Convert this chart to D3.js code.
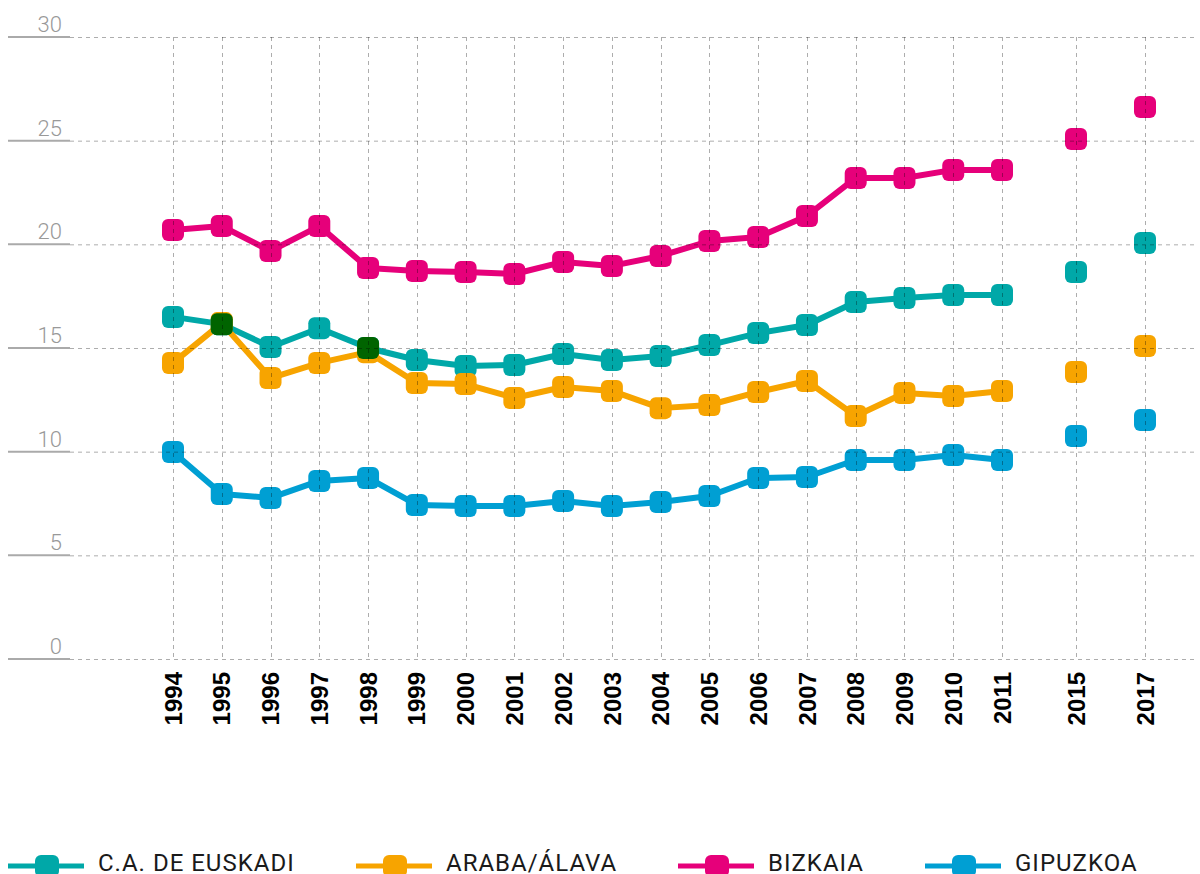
<!DOCTYPE html>
<html>
<head>
<meta charset="utf-8">
<script src="https://cdn.jsdelivr.net/npm/d3@7"></script>
<style>
  body { margin: 0; background: #fff; }
  svg { display: block; }
</style>
</head>
<body>
<div id="chart"></div>
<script>
// ---- data ----
var years = [1994, 1995, 1996, 1997, 1998, 1999, 2000, 2001, 2002, 2003, 2004, 2005, 2006, 2007, 2008, 2009, 2010, 2011, 2015, 2017];
var lastLinked = 2011; // the line stops here, later years are loose points

var caeValues = [16.5, 16.15, 15.05, 15.95, 15.0, 14.42, 14.13, 14.18, 14.71, 14.42, 14.61, 15.14, 15.72, 16.11, 17.22, 17.41, 17.56, 17.56, 18.67, 20.06];
var arabaValues = [14.28, 16.2, 13.55, 14.28, 14.8, 13.31, 13.26, 12.59, 13.12, 12.93, 12.1, 12.25, 12.88, 13.41, 11.72, 12.83, 12.69, 12.93, 13.84, 15.1];
var bizkaiaValues = [20.69, 20.88, 19.68, 20.88, 18.86, 18.71, 18.67, 18.57, 19.15, 18.96, 19.44, 20.16, 20.35, 21.37, 23.2, 23.2, 23.59, 23.59, 25.08, 26.62];
var gipuzkoaValues = [9.98, 7.96, 7.77, 8.59, 8.73, 7.43, 7.38, 7.38, 7.62, 7.38, 7.57, 7.86, 8.73, 8.78, 9.6, 9.6, 9.84, 9.6, 10.76, 11.53];

var seriesNames = ["C.A. DE EUSKADI", "ARABA/ÁLAVA", "BIZKAIA", "GIPUZKOA"];
var seriesColors = ["#00a8a8", "#f7a400", "#e6007a", "#009fd3"];
var yTicks = [0, 5, 10, 15, 20, 25, 30];
// years where the first two series sit on top of each other (dark marker)
var overlapYears = [1995, 1998];

var series = [caeValues, arabaValues, bizkaiaValues, gipuzkoaValues].map(function(vals, i) {
  return {
    name: seriesNames[i],
    color: seriesColors[i],
    points: years.map(function(y, j) { return { year: y, value: vals[j] }; })
  };
});

// ---- layout ----
var width = 1200, height = 874;
var svg = d3.select("#chart").append("svg")
  .attr("width", width)
  .attr("height", height);

// years 2011 -> 2015 -> 2017 are squeezed on the axis
var x = d3.scaleLinear()
  .domain([1994, 2011, 2015, 2017])
  .range([173, 1002, 1076, 1145]);

var y = d3.scaleLinear()
  .domain([0, 30])
  .range([659, 37]);

var markerSize = 22;

// y tick labels with the short solid rule under them
var yAxis = svg.append("g").attr("class", "y-axis");
yAxis.selectAll("line")
  .data(yTicks)
  .enter().append("line")
  .attr("x1", 8).attr("x2", 70)
  .attr("y1", function(d) { return y(d); })
  .attr("y2", function(d) { return y(d); })
  .attr("stroke", "#aaa")
  .attr("stroke-width", 2);
yAxis.selectAll("text")
  .data(yTicks)
  .enter().append("text")
  .attr("x", 62)
  .attr("y", function(d) { return y(d) - 5; })
  .attr("text-anchor", "end")
  .attr("font-family", "Roboto, sans-serif")
  .attr("font-weight", 300)
  .attr("font-size", 22)
  .attr("fill", "#999")
  .text(function(d) { return d; });

// x labels, rotated
svg.append("g").attr("class", "x-axis")
  .selectAll("text")
  .data(years)
  .enter().append("text")
  .attr("transform", function(d) { return "translate(" + x(d) + ",672) rotate(-90)"; })
  .attr("text-anchor", "end")
  .attr("dy", "0.36em")
  .attr("font-family", "'Liberation Sans Narrow', 'Arial Narrow', sans-serif")
  .attr("font-weight", "bold")
  .attr("font-size", 24)
  .attr("fill", "#000")
  .text(function(d) { return d; });

// data lines
var line = d3.line()
  .x(function(d) { return x(d.year); })
  .y(function(d) { return y(d.value); });

var plot = svg.append("g").attr("class", "plot");

plot.selectAll("path.series")
  .data(series)
  .enter().append("path")
  .attr("class", "series")
  .attr("fill", "none")
  .attr("stroke", function(d) { return d.color; })
  .attr("stroke-width", 6)
  .attr("stroke-linejoin", "round")
  .attr("d", function(d) {
    return line(d.points.filter(function(p) { return p.year <= lastLinked; }));
  });

plot.selectAll("g.markers")
  .data(series)
  .enter().append("g")
  .attr("class", "markers")
  .attr("fill", function(d) { return d.color; })
  .selectAll("rect")
  .data(function(d) { return d.points; })
  .enter().append("rect")
  .attr("x", function(d) { return x(d.year) - markerSize / 2; })
  .attr("y", function(d) { return y(d.value) - markerSize / 2; })
  .attr("width", markerSize)
  .attr("height", markerSize)
  .attr("rx", 6);

// dark markers where C.A. and Araba meet
plot.selectAll("rect.overlap")
  .data(series[0].points.filter(function(p) { return overlapYears.indexOf(p.year) >= 0; }))
  .enter().append("rect")
  .attr("class", "overlap")
  .attr("x", function(d) { return x(d.year) - markerSize / 2; })
  .attr("y", function(d) { return y(d.value) - markerSize / 2; })
  .attr("width", markerSize)
  .attr("height", markerSize)
  .attr("rx", 6)
  .attr("fill", "#006400");

// dashed grid drawn last so it shows through the marks
var grid = svg.append("g").attr("class", "grid")
  .attr("stroke", "#000")
  .attr("stroke-opacity", 0.32)
  .attr("stroke-width", 1)
  .attr("stroke-dasharray", "4,4");
grid.selectAll("line.h")
  .data(yTicks)
  .enter().append("line")
  .attr("class", "h")
  .attr("x1", 70).attr("x2", 1196)
  .attr("y1", function(d) { return y(d) + 0.5; })
  .attr("y2", function(d) { return y(d) + 0.5; });
grid.selectAll("line.v")
  .data(years)
  .enter().append("line")
  .attr("class", "v")
  .attr("x1", function(d) { return Math.round(x(d)) + 0.5; })
  .attr("x2", function(d) { return Math.round(x(d)) + 0.5; })
  .attr("y1", y(30))
  .attr("y2", y(0));

// legend
var legendX = [8, 356, 678, 925];
var legend = svg.append("g").attr("class", "legend")
  .selectAll("g")
  .data(series)
  .enter().append("g")
  .attr("transform", function(d, i) { return "translate(" + legendX[i] + ",866)"; });
legend.append("line")
  .attr("x1", 0).attr("x2", 76)
  .attr("stroke", function(d) { return d.color; })
  .attr("stroke-width", 5);
legend.append("rect")
  .attr("x", 38 - markerSize / 2)
  .attr("y", -markerSize / 2)
  .attr("width", markerSize + 2)
  .attr("height", markerSize)
  .attr("rx", 6)
  .attr("fill", function(d) { return d.color; });
legend.append("text")
  .attr("x", 90)
  .attr("y", 5)
  .attr("font-family", "Roboto, sans-serif")
  .attr("font-size", 24)
  .attr("letter-spacing", 1)
  .attr("fill", "#1a1a1a")
  .text(function(d) { return d.name; });
</script>
</body>
</html>
